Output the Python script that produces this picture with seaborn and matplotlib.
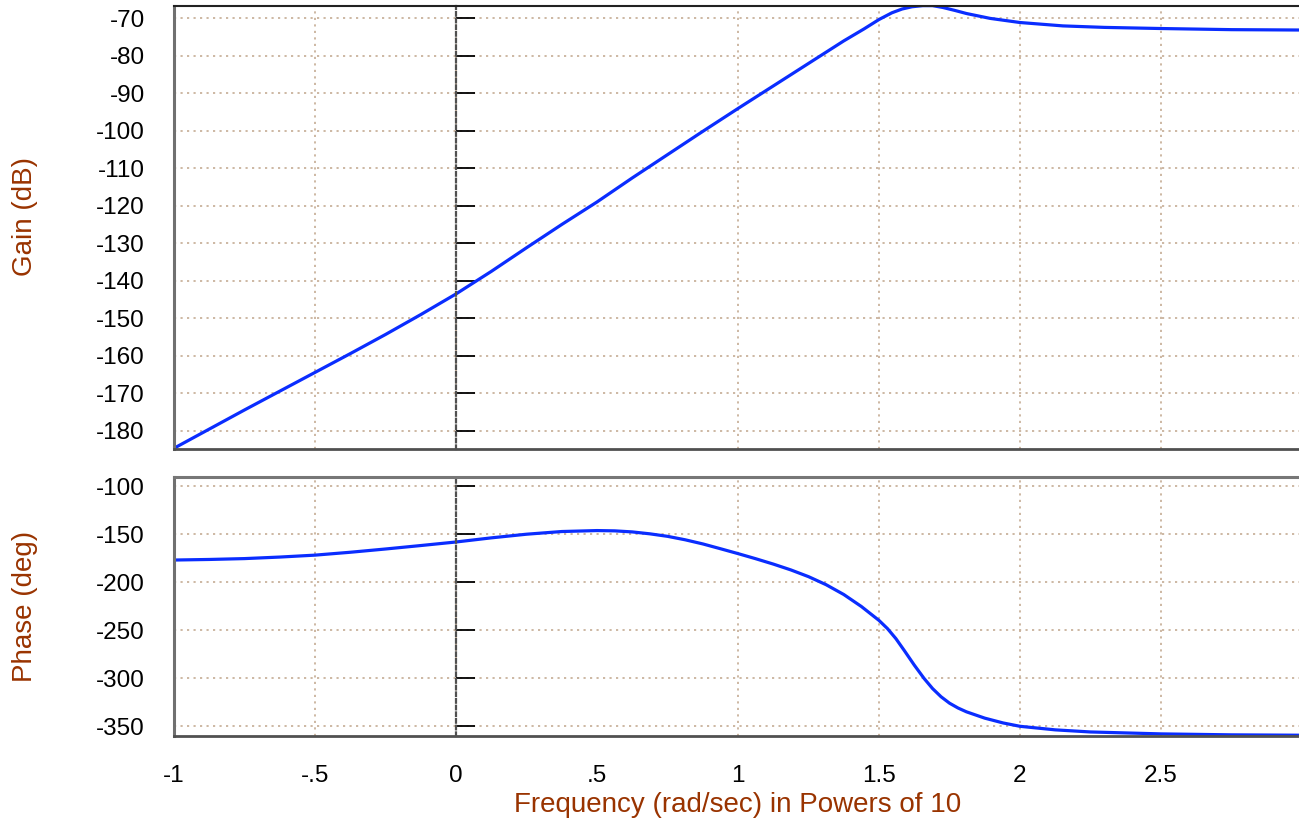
import matplotlib
matplotlib.use("Agg")
import matplotlib.pyplot as plt
import seaborn as sns
import pandas as pd

# ---- data (x = log10 frequency) ----
gain_freq = [-1.0, -0.875, -0.75, -0.625, -0.5, -0.375, -0.25, -0.125, 0.0,
             0.125, 0.25, 0.375, 0.5, 0.625, 0.75, 0.875, 1.0, 1.125, 1.25,
             1.375, 1.447, 1.5, 1.546, 1.582, 1.617, 1.655, 1.69, 1.727, 1.77,
             1.81, 1.894, 2.0, 2.152, 2.3, 2.5, 2.75, 3.0]
gain_db = [-184.6, -179.5, -174.4, -169.4, -164.4, -159.4, -154.3, -149.0, -143.5,
           -137.5, -131.2, -125.0, -119.0, -112.6, -106.4, -100.2, -94.1, -88.1, -82.1,
           -76.1, -72.9, -70.4, -68.6, -67.6, -67.0, -66.7, -66.7, -67.2, -68.0,
           -68.8, -70.1, -71.2, -72.1, -72.5, -72.8, -73.1, -73.2]

phase_freq = [-1.0, -0.875, -0.75, -0.625, -0.5, -0.375, -0.25, -0.125, 0.0,
              0.125, 0.25, 0.375, 0.5, 0.5625, 0.625, 0.6875, 0.75, 0.8125, 0.875,
              0.9375, 1.0, 1.0625, 1.125, 1.1875, 1.25, 1.3125, 1.375, 1.4375, 1.5,
              1.53, 1.56, 1.59, 1.625, 1.66, 1.69, 1.72, 1.75, 1.78, 1.81, 1.875,
              1.94, 2.0, 2.125, 2.25, 2.5, 2.75, 3.0]
phase_deg = [-177.1, -176.5, -175.6, -174.0, -172.0, -169.0, -165.6, -162.0, -158.3,
             -154.0, -150.2, -147.4, -146.4, -146.7, -147.8, -149.8, -152.4, -156.0, -160.3,
             -165.3, -170.4, -175.7, -181.3, -187.4, -194.4, -202.8, -213.0, -225.5, -240.0,
             -248.5, -259.0, -271.5, -286.5, -300.5, -311.0, -319.5, -326.2, -331.2, -335.2, -341.8,
             -346.8, -350.3, -354.0, -356.2, -358.2, -359.2, -359.6]

x_ticks = [-1, -0.5, 0, 0.5, 1, 1.5, 2, 2.5]
x_tick_labels = ["-1", "-.5", "0", ".5", "1", "1.5", "2", "2.5"]
gain_ticks = [-180, -170, -160, -150, -140, -130, -120, -110, -100, -90, -80, -70]
gain_tick_labels = ["-180", "-170", "-160", "-150", "-140", "-130", "-120", "-110",
                    "-100", "-90", "-80", "-70"]
phase_ticks = [-350, -300, -250, -200, -150, -100]
phase_tick_labels = ["-350", "-300", "-250", "-200", "-150", "-100"]

x_label = "Frequency (rad/sec) in Powers of 10"
gain_label = "Gain (dB)"
phase_label = "Phase (deg)"

# ---- style ----
sns.set_theme(style="white")
plt.rcParams["font.family"] = ["Liberation Sans", "DejaVu Sans"]
plt.rcParams["axes.unicode_minus"] = False

LINE = "#0a2dff"
LABEL = "#993300"
GRID = "#c9b29c"

W, H = 1299, 824
fig = plt.figure(figsize=(W / 100, H / 100), dpi=100)
fig.patch.set_facecolor("white")

left = 174 / W
width = 1128 / W
ax1 = fig.add_axes([left, 1 - 449 / H, width, 443 / H])
ax2 = fig.add_axes([left, 1 - 736 / H, width, 259 / H])

df_g = pd.DataFrame({"f": gain_freq, "g": gain_db})
df_p = pd.DataFrame({"f": phase_freq, "p": phase_deg})
sns.lineplot(data=df_g, x="f", y="g", ax=ax1, color=LINE, linewidth=2.3, sort=False)
sns.lineplot(data=df_p, x="f", y="p", ax=ax2, color=LINE, linewidth=2.3, sort=False)

ax1.set_ylim(-184.8, -66.8)
ax2.set_ylim(-360.4, -90.6)

for ax, yt, ytl in ((ax1, gain_ticks, gain_tick_labels), (ax2, phase_ticks, phase_tick_labels)):
    ax.set_xlim(-1, 3)
    ax.set_facecolor("white")
    ax.set_xticks(x_ticks)
    ax.set_yticks(yt)
    ax.set_yticklabels(ytl)
    ax.set_axisbelow(True)
    ax.grid(True, color=GRID, linestyle=(0, (1.2, 2.4)), linewidth=1.3)
    ax.tick_params(axis="y", left=False, right=True, labelleft=True, labelright=False,
                   direction="out", length=14, width=1.3, color="black", pad=7,
                   labelsize=17.5, labelcolor="black")
    ax.tick_params(axis="x", bottom=False, top=False, length=0, pad=21,
                   labelsize=17.5, labelcolor="black")
    # zero-frequency reference line with tick dashes (right spine moved to x = 0)
    sp = ax.spines["right"]
    sp.set_position(("data", 0))
    sp.set_linestyle((0, (1.6, 1.4)))
    sp.set_color("#505050")
    sp.set_linewidth(1.6)
    ax.spines["left"].set_color("#707070")
    ax.spines["left"].set_linewidth(2.2)
    ax.spines["bottom"].set_color("#505050")
    ax.spines["bottom"].set_linewidth(2.0)
    for t in ax.xaxis.get_major_ticks():
        if abs(t.get_loc()) < 1e-9:
            t.gridline.set_visible(False)

ax1.spines["top"].set_color("#222222")
ax1.spines["top"].set_linewidth(1.5)
ax2.spines["top"].set_color("#777777")
ax2.spines["top"].set_linewidth(2.2)

ax1.set_xticklabels([])
ax1.tick_params(axis="x", labelbottom=False)
ax2.set_xticklabels(x_tick_labels)

ax1.set_xlabel("")
ax1.set_ylabel(gain_label, color=LABEL, fontsize=20)
ax2.set_ylabel(phase_label, color=LABEL, fontsize=20)
ax2.set_xlabel(x_label, color=LABEL, fontsize=20)
ax1.yaxis.set_label_coords(-0.121, 0.525)
ax2.yaxis.set_label_coords(-0.121, 0.5)
ax2.xaxis.set_label_coords(0.5, -0.215)

fig.savefig("out.png", dpi=100, facecolor="white")
